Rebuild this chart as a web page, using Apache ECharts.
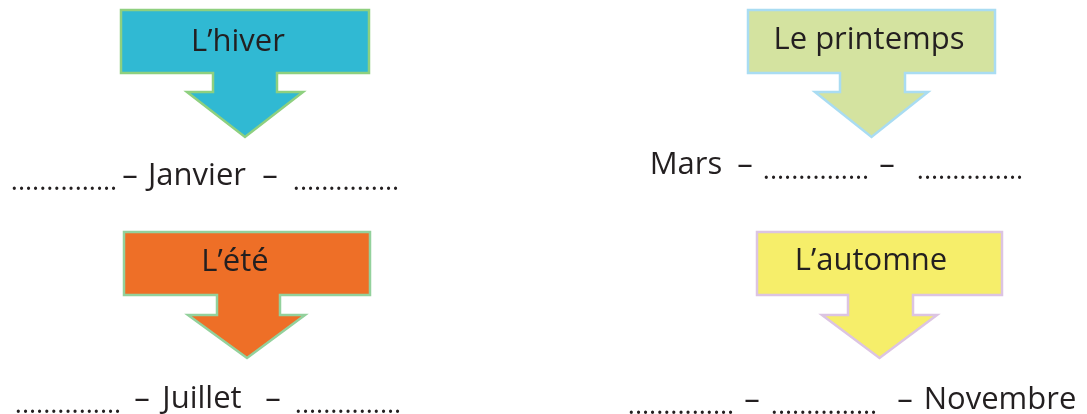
<!DOCTYPE html>
<html>
<head>
<meta charset="utf-8">
<script src="https://cdn.jsdelivr.net/npm/echarts@6/dist/echarts.min.js"></script>
<style>
  html, body { margin: 0; padding: 0; background: #fff; }
  #main { width: 1087px; height: 414px; }
</style>
</head>
<body>
<div id="main"></div>
<script>
// les saisons et les mois
var seasons = ['L’hiver', 'Le printemps', 'L’été', 'L’automne'];
var months = [
  ['', 'Janvier', ''],
  ['Mars', '', ''],
  ['', 'Juillet', ''],
  ['', '', 'Novembre']
];
var blank = '...............';

(function() {
  var myChart = echarts.init(document.getElementById('main'));
  var font = '"Open Sans", "Noto Sans", sans-serif';
  var ink = '#231f20';

  // mise en page de chaque bloc (flèche + ligne de mois)
  var layout = [
    { box: [121, 369, 10, 73], shaft: [213, 277, 92], head: [187, 303, 137], tip: 245,
      fill: '#30b9d3', stroke: '#8ed07f', label: [238, 42],
      slots: [64, 197, 346], dashes: [130, 270], y: 176 },
    { box: [748, 995, 10, 73], shaft: [840, 905, 92], head: [815, 928, 137], tip: 871.5,
      fill: '#d4e3a0', stroke: '#a9dcf2', label: [869, 40],
      slots: [686, 816, 970], dashes: [745, 887], y: 165 },
    { box: [124, 370, 232, 295], shaft: [217, 280, 315], head: [188, 305, 358], tip: 247,
      fill: '#ee6f27', stroke: '#93d19c', label: [235, 262],
      slots: [68, 202, 348], dashes: [142, 273], y: 399 },
    { box: [757, 1002, 232, 295], shaft: [848, 913, 315], head: [822, 937, 358], tip: 879.5,
      fill: '#f6ee6a', stroke: '#dcc4e2', label: [871, 261],
      slots: [681, 824, 1000], dashes: [752, 905], y: 400 }
  ];

  function arrow(p) {
    var L = p.box[0], R = p.box[1], T = p.box[2], B = p.box[3];
    var sL = p.shaft[0], sR = p.shaft[1], SB = p.shaft[2];
    return [[L, T], [R, T], [R, B], [sR, B], [sR, SB], [p.head[1], SB],
            [p.tip, p.head[2]], [p.head[0], SB], [sL, SB], [sL, B], [L, B]];
  }

  var elements = [];
  layout.forEach(function(p, i) {
    elements.push({
      type: 'polygon',
      shape: { points: arrow(p) },
      style: { fill: p.fill, stroke: p.stroke, lineWidth: 2.5, lineJoin: 'miter' }
    });
    elements.push({
      type: 'text',
      x: p.label[0], y: p.label[1],
      style: { text: seasons[i], fill: ink, font: '31px ' + font, align: 'center', verticalAlign: 'middle' }
    });
    months[i].forEach(function(m, j) {
      elements.push({
        type: 'text',
        x: p.slots[j], y: m ? p.y : p.y + 6,
        style: {
          text: m || blank, fill: ink,
          font: (m ? '31px ' : '27px ') + font,
          align: 'center', verticalAlign: 'middle'
        }
      });
    });
    p.dashes.forEach(function(dx) {
      elements.push({
        type: 'text',
        x: dx, y: p.y,
        style: { text: '–', fill: ink, font: '31px ' + font, align: 'center', verticalAlign: 'middle' }
      });
    });
  });

  var option = {
    backgroundColor: '#ffffff',
    animation: false,
    graphic: { elements: elements }
  };
  myChart.setOption(option);
})();
</script>
</body>
</html>
